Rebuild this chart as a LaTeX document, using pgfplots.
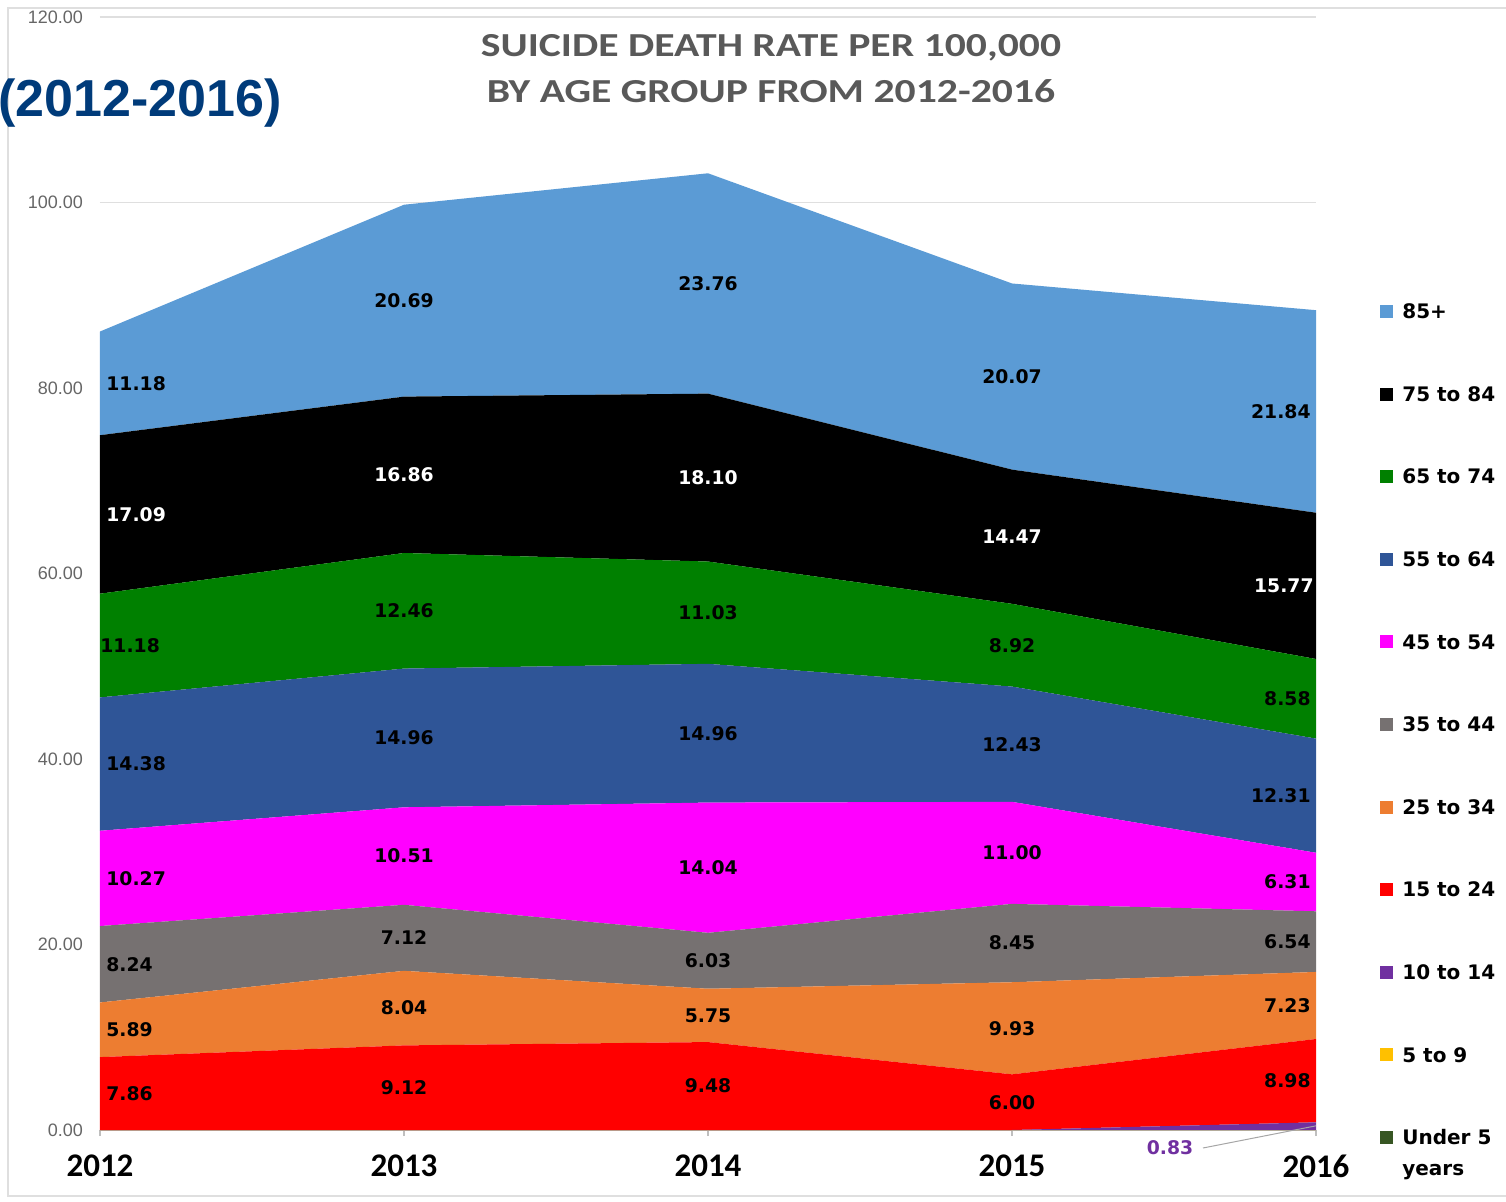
\documentclass[border=0pt]{standalone}
\usepackage{pgfplots}
\pgfplotsset{compat=1.18}
\usepackage{fontspec}
\setmainfont{DejaVu Sans}
\newfontfamily\titlefont{Carlito}
\newfontfamily\tickfont{Liberation Sans}
\definecolor{c85}{HTML}{5B9BD5}
\definecolor{c75}{HTML}{000000}
\definecolor{c65}{HTML}{008000}
\definecolor{c55}{HTML}{2F5597}
\definecolor{c45}{HTML}{FF00FF}
\definecolor{c35}{HTML}{767171}
\definecolor{c25}{HTML}{ED7D31}
\definecolor{c15}{HTML}{FF0000}
\definecolor{c10}{HTML}{7030A0}
\definecolor{c5}{HTML}{FFC000}
\definecolor{cu5}{HTML}{375623}
\definecolor{titlegray}{HTML}{595959}
\definecolor{navy}{HTML}{003B7A}
\newcommand{\lc}[2]{\coordinate (#1) at (axis cs:#2);}
\newcommand{\lbl}[4][black]{\node[font=\bfseries\fontsize{9.4}{10}\selectfont,text=#1,inner sep=0pt,#2] at (#3) {#4};}
\begin{document}
\begin{tikzpicture}
\useasboundingbox (0,0) rectangle (753pt,600.5pt);
\draw[gray!25, line width=0.8pt] (4pt,2.5pt) rectangle (760pt,596.5pt);
\begin{axis}[
  at={(50pt,35.5pt)}, anchor=south west,
  scale only axis, width=608pt, height=556.5pt,
  xmin=2012, xmax=2016, ymin=0, ymax=120,
  stack plots=y,
  clip=false,
  axis x line*=bottom, axis y line*=left,
  y axis line style={draw=none},
  x axis line style={gray!40},
  ytick={0,20,...,120},
  ytick style={draw=none},
  ymajorgrids, grid style={gray!25, line width=0.6pt},
  xtick={2012,2013,2014,2015,2016},
  xticklabels={2012,2013,2014,2015,2016},
  xtick style={gray!50, line width=0.6pt},
  tick align=outside, major tick length=3pt,
  xticklabel style={font=\titlefont\bfseries\fontsize{16.5}{17}\selectfont, yshift=-6pt},
  yticklabel style={font=\tickfont\fontsize{9}{10}\selectfont, text=black!60, xshift=-2pt},
  yticklabel={\pgfmathprintnumber[fixed,fixed zerofill,precision=2]{\tick}},
  /pgf/number format/assume math mode=true,
  reverse legend,
  legend cell align=left,
  legend image code/.code={\fill[#1] (0pt,-3.25pt) rectangle (6.5pt,3.25pt);},
  legend style={at={(1.0526,0.7423)}, anchor=north west, draw=none, fill=none,
    inner sep=0pt, row sep=34.1pt, column sep=4.5pt,
    font=\bfseries\fontsize{10}{15.5}\selectfont,
    nodes={inner sep=0pt, text height=7.2pt, text depth=0pt}},
]
\addplot[fill=cu5, draw=none] coordinates {(2012,0) (2013,0) (2014,0) (2015,0) (2016,0)} \closedcycle;
\addlegendentry{\raisebox{0pt}[\height][0pt]{\vtop{\hbox{Under 5}\hbox{years}}}}
\addplot[fill=c5, draw=none] coordinates {(2012,0) (2013,0) (2014,0) (2015,0) (2016,0)} \closedcycle;
\addlegendentry{5 to 9}
\addplot[fill=c10, draw=none] coordinates {(2012,0) (2013,0) (2014,0) (2015,0) (2016,0.83)} \closedcycle;
\addlegendentry{10 to 14}
\addplot[fill=c15, draw=none] coordinates {(2012,7.86) (2013,9.12) (2014,9.48) (2015,6.00) (2016,8.98)} \closedcycle;
\addlegendentry{15 to 24}
\addplot[fill=c25, draw=none] coordinates {(2012,5.89) (2013,8.04) (2014,5.75) (2015,9.93) (2016,7.23)} \closedcycle;
\addlegendentry{25 to 34}
\addplot[fill=c35, draw=none] coordinates {(2012,8.24) (2013,7.12) (2014,6.03) (2015,8.45) (2016,6.54)} \closedcycle;
\addlegendentry{35 to 44}
\addplot[fill=c45, draw=none] coordinates {(2012,10.27) (2013,10.51) (2014,14.04) (2015,11.00) (2016,6.31)} \closedcycle;
\addlegendentry{45 to 54}
\addplot[fill=c55, draw=none] coordinates {(2012,14.38) (2013,14.96) (2014,14.96) (2015,12.43) (2016,12.31)} \closedcycle;
\addlegendentry{55 to 64}
\addplot[fill=c65, draw=none] coordinates {(2012,11.18) (2013,12.46) (2014,11.03) (2015,8.92) (2016,8.58)} \closedcycle;
\addlegendentry{65 to 74}
\addplot[fill=c75, draw=none] coordinates {(2012,17.09) (2013,16.86) (2014,18.10) (2015,14.47) (2016,15.77)} \closedcycle;
\addlegendentry{75 to 84}
\addplot[fill=c85, draw=none] coordinates {(2012,11.18) (2013,20.69) (2014,23.76) (2015,20.07) (2016,21.84)} \closedcycle;
\addlegendentry{85+}
\lc{a1}{2012,3.93}\lc{a2}{2012,10.805}\lc{a3}{2012,17.87}\lc{a4}{2012,27.125}
\lc{a5}{2012,39.45}\lc{a6}{2012,52.23}\lc{a7}{2012,66.365}\lc{a8}{2012,80.5}
\lc{b1}{2013,4.56}\lc{b2}{2013,13.14}\lc{b3}{2013,20.72}\lc{b4}{2013,29.535}
\lc{b5}{2013,42.27}\lc{b6}{2013,55.98}\lc{b7}{2013,70.64}\lc{b8}{2013,89.415}
\lc{c1}{2014,4.74}\lc{c2}{2014,12.355}\lc{c3}{2014,18.245}\lc{c4}{2014,28.28}
\lc{c5}{2014,42.78}\lc{c6}{2014,55.775}\lc{c7}{2014,70.34}\lc{c8}{2014,91.27}
\lc{d1}{2015,3.0}\lc{d2}{2015,10.965}\lc{d3}{2015,20.155}\lc{d4}{2015,29.88}
\lc{d5}{2015,41.595}\lc{d6}{2015,52.27}\lc{d7}{2015,63.965}\lc{d8}{2015,81.235}
\lc{e1}{2016,5.32}\lc{e2}{2016,13.425}\lc{e3}{2016,20.31}\lc{e4}{2016,26.735}
\lc{e5}{2016,36.045}\lc{e6}{2016,46.49}\lc{e7}{2016,58.665}\lc{e8}{2016,77.47}
\lc{f0}{2015.52,-1.94}
\lc{p16}{2016,0.45}
\end{axis}
% labels 2012
\lbl{anchor=west,xshift=3pt}{a1}{7.86}
\lbl{anchor=west,xshift=3pt}{a2}{5.89}
\lbl{anchor=west,xshift=3pt}{a3}{8.24}
\lbl{anchor=west,xshift=3pt}{a4}{10.27}
\lbl{anchor=west,xshift=3pt}{a5}{14.38}
\lbl{anchor=west,xshift=0pt}{a6}{11.18}
\lbl[white]{anchor=west,xshift=3pt}{a7}{17.09}
\lbl{anchor=west,xshift=3pt}{a8}{11.18}
% 2013
\lbl{}{b1}{9.12}
\lbl{}{b2}{8.04}
\lbl{}{b3}{7.12}
\lbl{}{b4}{10.51}
\lbl{}{b5}{14.96}
\lbl{}{b6}{12.46}
\lbl[white]{}{b7}{16.86}
\lbl{}{b8}{20.69}
% 2014
\lbl{}{c1}{9.48}
\lbl{}{c2}{5.75}
\lbl{}{c3}{6.03}
\lbl{}{c4}{14.04}
\lbl{}{c5}{14.96}
\lbl{}{c6}{11.03}
\lbl[white]{}{c7}{18.10}
\lbl{}{c8}{23.76}
% 2015
\lbl{}{d1}{6.00}
\lbl{}{d2}{9.93}
\lbl{}{d3}{8.45}
\lbl{}{d4}{11.00}
\lbl{}{d5}{12.43}
\lbl{}{d6}{8.92}
\lbl[white]{}{d7}{14.47}
\lbl{}{d8}{20.07}
% 2016
\lbl{anchor=east,xshift=-2.5pt}{e1}{8.98}
\lbl{anchor=east,xshift=-2.5pt}{e2}{7.23}
\lbl{anchor=east,xshift=-2.5pt}{e3}{6.54}
\lbl{anchor=east,xshift=-2.5pt}{e4}{6.31}
\lbl{anchor=east,xshift=-2.5pt}{e5}{12.31}
\lbl{anchor=east,xshift=-2.5pt}{e6}{8.58}
\lbl[white]{anchor=east,xshift=-1pt}{e7}{15.77}
\lbl{anchor=east,xshift=-2.5pt}{e8}{21.84}
\lbl[c10]{}{f0}{0.83}
\draw[gray!70, line width=0.5pt] (601.5pt,26.5pt) -- (p16);
\node[anchor=base, font=\titlefont\bfseries\fontsize{16.8}{18}\selectfont, text=titlegray, xscale=1.24] at (385.5pt,572pt) {SUICIDE DEATH RATE PER 100,000};
\node[anchor=base, font=\titlefont\bfseries\fontsize{16.8}{18}\selectfont, text=titlegray, xscale=1.24] at (385.5pt,549pt) {BY AGE GROUP FROM 2012-2016};
\node[anchor=base, font=\tickfont\bfseries\fontsize{26}{28}\selectfont, text=navy, inner sep=0pt] at (70pt,542pt) {(2012-2016)};
\end{tikzpicture}
\end{document}
